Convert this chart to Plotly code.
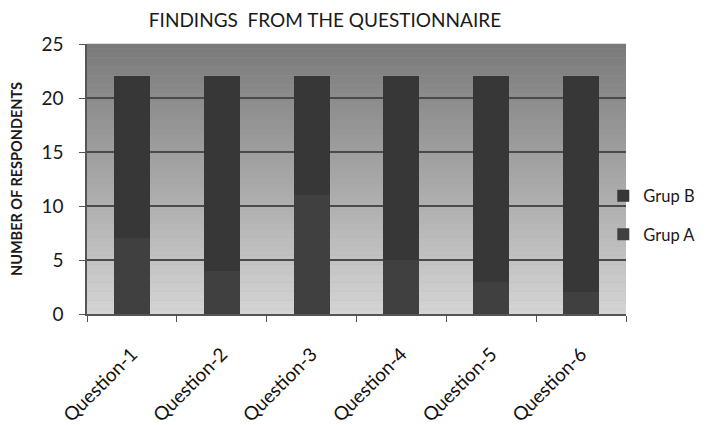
import plotly.graph_objects as go

categories = ["Question-1", "Question-2", "Question-3", "Question-4", "Question-5", "Question-6"]
grup_a = [7, 4, 11, 5, 3, 2]
grup_b = [15, 18, 11, 17, 19, 20]
y_ticks = [0, 5, 10, 15, 20, 25]

fig = go.Figure()
fig.add_trace(go.Bar(x=categories, y=grup_a, name="Grup A", marker=dict(color="#404040", line=dict(width=0)),
                     legendgroup="a", legendrank=2))
fig.add_trace(go.Bar(x=categories, y=grup_b, name="Grup B", marker=dict(color="#373737", line=dict(width=0)),
                     legendgroup="b", legendrank=1))

# vertical gradient background of the plot area
n = 60
top = (122, 122, 122)
bot = (212, 212, 212)
shapes = []
for i in range(n):
    t = i / (n - 1)
    c = tuple(int(round(top[k] + (bot[k] - top[k]) * t)) for k in range(3))
    y1 = 1 - i / n
    y0 = 1 - (i + 1) / n
    shapes.append(dict(type="rect", xref="x domain", yref="y domain", x0=0, x1=1, y0=y0, y1=y1 + 0.001,
                       fillcolor="rgb(%d,%d,%d)" % c, line=dict(width=0), layer="below"))

fig.update_layout(
    width=706, height=425,
    barmode="stack", bargap=0.6,
    paper_bgcolor="white", plot_bgcolor="#a0a0a0",
    shapes=shapes,
    margin=dict(l=79, r=88, t=36, b=119, autoexpand=False),
    font=dict(family="Lato", color="#1a1a1a"),
    title=dict(text="FINDINGS  FROM THE QUESTIONNAIRE", xref="container", x=0.449, xanchor="center",
               yref="container", y=0.972, yanchor="middle",
               font=dict(size=19, family="Lato", color="#1a1a1a")),
    legend=dict(xref="container", x=0.982, xanchor="right", yref="container", y=0.513, yanchor="middle",
                traceorder="grouped", tracegroupgap=14, font=dict(size=16.5, family="Lato", color="#1a1a1a"),
                bgcolor="rgba(0,0,0,0)", itemwidth=30),
    showlegend=True,
)
fig.update_yaxes(range=[0, 25], tickvals=y_ticks, showgrid=True, gridcolor="#4a4a4a", gridwidth=1.5,
                 showline=True, linecolor="#555555", linewidth=1.5, ticks="outside", ticklen=6,
                 tickcolor="#555555", tickfont=dict(size=19, family="Lato", color="#1a1a1a"),
                 ticklabelstandoff=12, zeroline=False, automargin=False,
                 title=dict(text="<b>NUMBER OF RESPONDENTS</b>", font=dict(size=14.5, family="Lato", color="#1a1a1a"),
                            standoff=16))
fig.update_xaxes(showline=True, linecolor="#555555", linewidth=1.5, ticks="outside", ticklen=6,
                 tickcolor="#555555", tickson="boundaries", tickangle=-45, ticklabelstandoff=20,
                 automargin=False,
                 tickfont=dict(size=19, family="Lato", color="#111111"), showgrid=False)

fig.write_html("out.html")
